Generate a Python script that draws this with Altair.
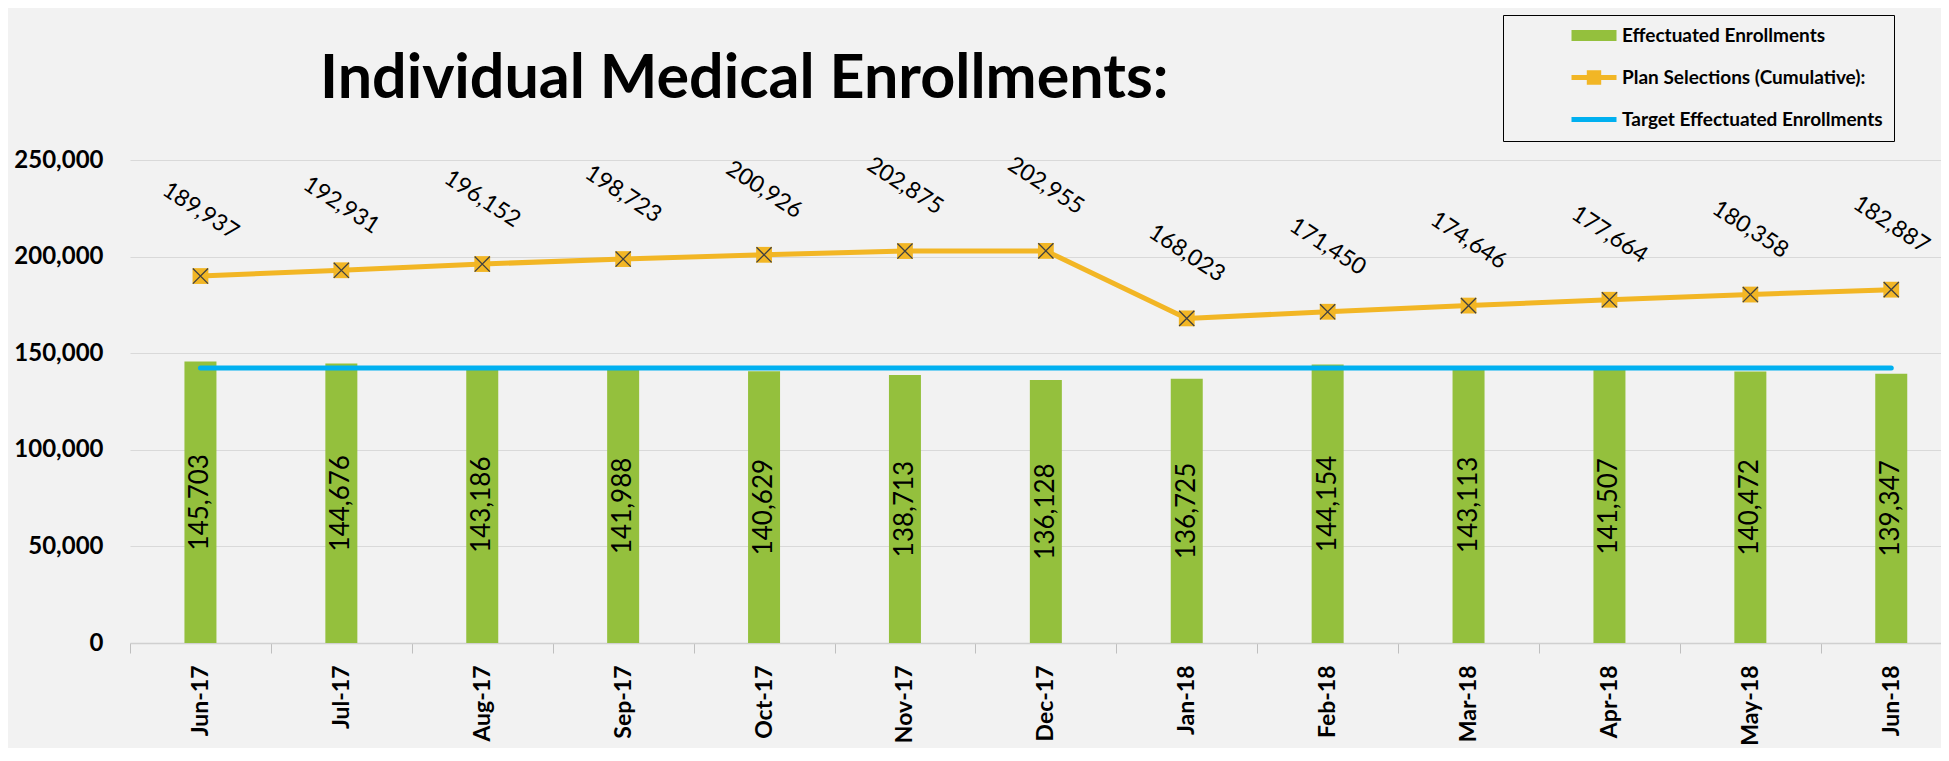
import altair as alt
import pandas as pd

MONTHS = ["Jun-17", "Jul-17", "Aug-17", "Sep-17", "Oct-17", "Nov-17", "Dec-17",
          "Jan-18", "Feb-18", "Mar-18", "Apr-18", "May-18", "Jun-18"]
EFFECTUATED = [145703, 144676, 143186, 141988, 140629, 138713, 136128,
               136725, 144154, 143113, 141507, 140472, 139347]
PLAN_SELECTIONS = [189937, 192931, 196152, 198723, 200926, 202875, 202955,
                   168023, 171450, 174646, 177664, 180358, 182887]
TARGET = 142300
SERIES = ["Effectuated Enrollments", "Plan Selections (Cumulative):",
          "Target Effectuated Enrollments"]
Y_TICKS = [0, 50000, 100000, 150000, 200000, 250000]
TITLE = "Individual Medical Enrollments:"

GREEN = "#94C03D"
GOLD = "#F2B625"
BLUE = "#00B0F0"
BG = "#F2F2F2"
FONT = "Lato"

PLOT_W = 1811
PLOT_H = 483
STEP = 140.9
n = len(MONTHS)

df = pd.DataFrame({"i": list(range(n)), "month": MONTHS,
                   "eff": EFFECTUATED, "plan": PLAN_SELECTIONS})
target_df = pd.DataFrame({"i": [0], "i2": [n - 1], "target": [TARGET]})

x_scale = alt.Scale(domain=[-0.5, -0.5 + PLOT_W / STEP], nice=False, zero=False, padding=0)
y_scale = alt.Scale(domain=[0, 250000], nice=False)

month_array = "[" + ",".join("'" + m + "'" for m in MONTHS) + "]"
x_axis = alt.Axis(
    values=[k / 2 - 0.5 for k in range(2 * n)],
    labelExpr=f"datum.value % 1 === 0 ? {month_array}[datum.value] : ''",
    labelAngle=270, labelFont=FONT, labelFontSize=23, labelFontWeight="bold",
    labelColor="#000000", labelPadding=12, labelOverlap=False, labelFlush=False,
    tickSize=10, tickColor="#BFBFBF", tickWidth=1,
    tickOpacity={"condition": {"test": "datum.value % 1 === 0", "value": 0}, "value": 1},
    domainColor="#D0D0D0", domainWidth=1.5, grid=False, title=None,
)
y_axis = alt.Axis(
    values=Y_TICKS, labelExpr="format(datum.value, ',')", labelFont=FONT,
    labelFontSize=24, labelFontWeight="bold", labelColor="#000000",
    ticks=False, domain=False, gridColor="#D9D9D9", gridWidth=1,
    labelPadding=27, title=None,
)

X = alt.X("i:Q", scale=x_scale, axis=x_axis, title=None)


def Y(field):
    return alt.Y(field, scale=y_scale, axis=y_axis, title=None)


base = alt.Chart(df)

bars = base.mark_bar(size=32, color=GREEN).encode(x=X, y=Y("eff:Q"))

bar_labels = base.transform_calculate(mid="datum.eff / 2").mark_text(
    angle=270, font=FONT, fontSize=26, color="#000000", align="center", baseline="middle"
).encode(x=X, y=Y("mid:Q"), text=alt.Text("eff:Q", format=","))

target = alt.Chart(target_df).mark_rule(
    color=BLUE, strokeWidth=5, strokeCap="round"
).encode(x=X, x2="i2:Q", y=Y("target:Q"))

line = base.mark_line(color=GOLD, strokeWidth=5).encode(x=X, y=Y("plan:Q"))

squares = base.mark_point(
    shape="square", filled=True, color=GOLD, size=250, opacity=1
).encode(x=X, y=Y("plan:Q"))

crosses = base.mark_point(
    shape="M-1,-1L1,1M-1,1L1,-1", filled=False, color="#404040",
    size=230, strokeWidth=1.3, opacity=1
).encode(x=X, y=Y("plan:Q"))

line_labels = base.mark_text(
    angle=33, dx=-35.4, dy=-54.5, font=FONT, fontSize=23, color="#000000",
    align="center", baseline="middle"
).encode(x=X, y=Y("plan:Q"), text=alt.Text("plan:Q", format=","))

PATH_BAR = "M-3.75,-0.9H3.75V0.9H-3.75Z"
PATH_PLAN = "M-3.75,-0.42H3.75V0.42H-3.75Z M-1.2,-1.2H1.2V1.2H-1.2Z"
PATH_TARGET = "M-3.75,-0.42H3.75V0.42H-3.75Z"

legend = alt.Legend(
    title=None, orient="none", legendX=1373, legendY=-145, direction="vertical",
    symbolSize=144, symbolOffset=70.5, labelOffset=18.5, symbolOpacity=1,
    symbolStrokeWidth=0, labelFont=FONT, labelFontSize=19, labelFontWeight="bold",
    labelColor="#000000", labelLimit=500, padding=11, rowPadding=22,
    strokeColor="#000000", fillColor=BG,
)

legend_layer = base.transform_calculate(
    series="'" + SERIES[1] + "'"
).mark_point(filled=True, opacity=0).encode(
    x=X, y=Y("plan:Q"),
    color=alt.Color("series:N", scale=alt.Scale(domain=SERIES, range=[GREEN, GOLD, BLUE]), legend=legend),
    shape=alt.Shape("series:N", scale=alt.Scale(domain=SERIES, range=[PATH_BAR, PATH_PLAN, PATH_TARGET]), legend=legend),
)

chart = alt.layer(
    bars, bar_labels, target, line, squares, crosses, line_labels, legend_layer
).properties(
    width=PLOT_W, height=PLOT_H,
    autosize=alt.AutoSizeParams(type="none"),
    padding={"left": 122, "top": 152, "right": 0, "bottom": 105},
    title=alt.TitleParams(
        text=TITLE, font=FONT, fontSize=61, fontWeight="bold", color="#000000",
        anchor="start", frame="group", dx=190, dy=204, offset=60, baseline="alphabetic",
    ),
).configure(background=BG).configure_view(fill=BG, stroke=None)

chart.save("out.html", embed_options={"renderer": "svg", "actions": False})
